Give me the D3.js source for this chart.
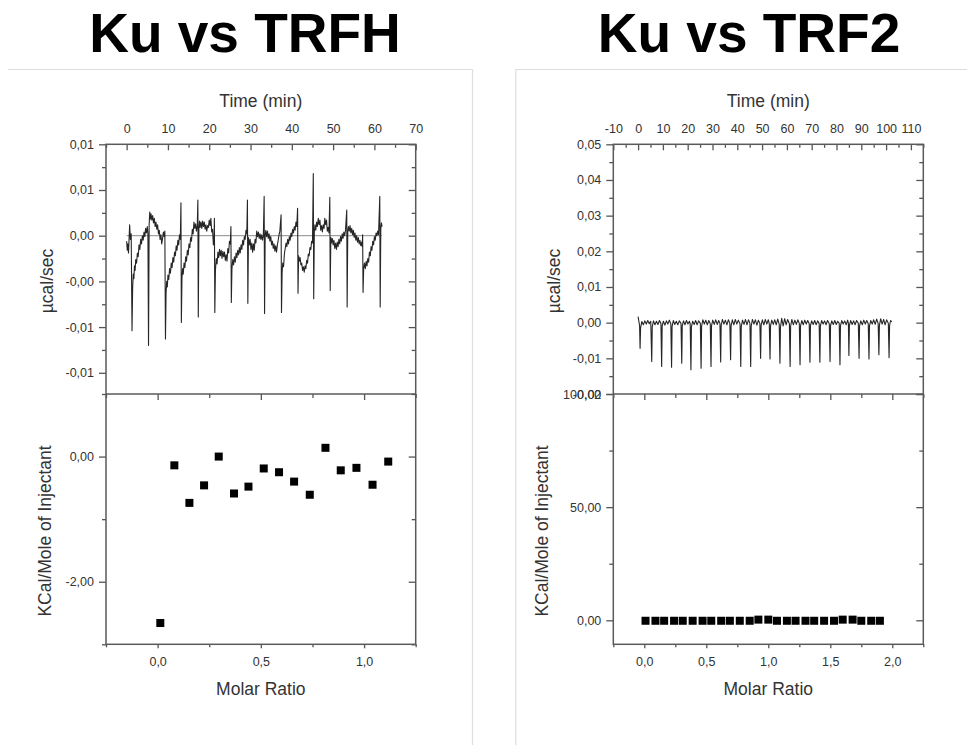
<!DOCTYPE html>
<html>
<head>
<meta charset="utf-8">
<script src="https://cdn.jsdelivr.net/npm/d3@7"></script>
<style>
  body { margin: 0; background: #fff; }
  svg text { font-family: "Liberation Sans", Arial, sans-serif; }
  .tick text { fill: #333; font-size: 12.5px; }
  .tick line { stroke: #555; stroke-width: 1.3; }
</style>
</head>
<body>
<div id="chart"></div>
<script>
// ---------- data: Ku vs TRFH (left) ----------
const leftTitle = "Ku vs TRFH";
const leftTimeDomain = [-5, 70];
const leftTimeTicks = [0, 10, 20, 30, 40, 50, 60, 70];
const leftTimeMinor = [-5, 5, 15, 25, 35, 45, 55, 65];
const leftPowerDomain = [-0.01732, 0.010];
const leftPowerTicks = [0.010, 0.005, 0.000, -0.005, -0.010, -0.015];
const leftPowerLabels = ["0,01", "0,01", "0,00", "-0,00", "-0,01", "-0,01"];
const leftPowerMinor = [0.0075, 0.0025, -0.0025, -0.0075, -0.0125];
const leftRatioDomain = [-0.25, 1.25];
const leftRatioTicks = [0, 0.5, 1.0];
const leftRatioLabels = ["0,0", "0,5", "1,0"];
const leftRatioMinor = [-0.25, 0.25, 0.75, 1.25];
const leftHeatDomain = [-3, 1];
const leftHeatTicks = [0, -2];
const leftHeatLabels = ["0,00", "-2,00"];
const leftHeatMinor = [1, -1, -3];

const leftMolarRatio = [0.013, 0.081, 0.154, 0.225, 0.296, 0.370, 0.440, 0.514,
                        0.588, 0.661, 0.737, 0.813, 0.887, 0.963, 1.041, 1.117];
const leftHeat = [-2.66, -0.14, -0.74, -0.46, 0.00, -0.59, -0.48, -0.19,
                  -0.25, -0.40, -0.61, 0.14, -0.22, -0.18, -0.45, -0.08];

// raw thermogram, [time (min), µcal/sec]
const leftTrace = [
  [0.0,-0.0006],[0.15,-0.0016],[0.3,-0.0009],[0.45,-0.0019],[0.6,-0.0002],[0.73,0.0012],[0.9,-0.0004],[1.1,0.0002],
  [1.3,-0.0104],[1.45,-0.0058],[1.6,-0.0042],[1.75,-0.0047],[1.9,-0.0033],[2.05,-0.0038],[2.2,-0.0026],[2.4,-0.0030],[2.6,-0.0019],[2.8,-0.0023],[3.0,-0.0010],[3.2,-0.0015],[3.4,-0.0004],[3.6,-0.0009],[3.8,0.0000],[4.0,-0.0005],[4.2,0.0004],[4.4,-0.0001],[4.6,0.0008],[4.8,0.0003],[5.0,0.0010],[5.15,0.0002],
  [5.3,-0.0120],[5.45,0.0012],[5.6,0.0026],[5.75,0.0018],[5.9,0.0024],[6.1,0.0017],[6.3,0.0022],[6.5,0.0014],[6.7,0.0019],[6.9,0.0010],[7.1,0.0015],[7.3,0.0007],[7.5,0.0012],[7.7,0.0002],[7.9,0.0006],[8.1,-0.0004],[8.3,0.0001],[8.5,-0.0009],[8.7,-0.0003],[8.9,0.0004],[9.1,-0.0001],[9.25,0.0005],
  [9.4,-0.0113],[9.55,-0.0062],[9.7,-0.0050],[9.85,-0.0056],[10.0,-0.0043],[10.2,-0.0048],[10.4,-0.0036],[10.6,-0.0041],[10.8,-0.0030],[11.0,-0.0035],[11.2,-0.0024],[11.4,-0.0029],[11.6,-0.0018],[11.8,-0.0022],[12.0,-0.0011],[12.2,-0.0016],[12.4,-0.0005],[12.6,-0.0010],[12.8,0.0001],[13.0,-0.0004],[13.15,0.0036],
  [13.25,-0.0095],[13.4,-0.0046],[13.55,-0.0036],[13.7,-0.0042],[13.9,-0.0030],[14.1,-0.0035],[14.3,-0.0023],[14.5,-0.0028],[14.7,-0.0016],[14.9,-0.0021],[15.1,-0.0009],[15.3,-0.0013],[15.5,-0.0002],[15.7,-0.0006],[15.9,0.0007],[16.1,0.0002],[16.3,0.0015],[16.5,0.0008],[16.7,0.0013],[16.9,0.0005],[17.1,0.0011],[17.25,0.0039],
  [17.35,-0.0089],[17.5,0.0008],[17.65,0.0016],[17.8,0.0009],[18.0,0.0015],[18.2,0.0008],[18.4,0.0016],[18.6,0.0010],[18.8,0.0015],[19.0,0.0007],[19.2,0.0012],[19.4,0.0005],[19.6,0.0011],[19.8,0.0009],[20.0,0.0017],[20.2,0.0011],[20.4,0.0019],[20.6,0.0004],[20.8,0.0007],[21.0,-0.0010],[21.15,-0.0005],[21.25,0.0019],
  [21.35,-0.0084],[21.5,-0.0038],[21.7,-0.0025],[21.9,-0.0031],[22.1,-0.0018],[22.3,-0.0024],[22.5,-0.0015],[22.7,-0.0022],[22.9,-0.0016],[23.1,-0.0025],[23.3,-0.0017],[23.5,-0.0023],[23.7,-0.0018],[23.9,-0.0027],[24.1,-0.0021],[24.3,-0.0028],[24.5,-0.0014],[24.7,-0.0019],[24.9,-0.0006],[25.1,-0.0009],[25.25,0.0010],
  [25.35,-0.0073],[25.5,-0.0036],[25.7,-0.0026],[25.9,-0.0032],[26.1,-0.0023],[26.3,-0.0029],[26.5,-0.0019],[26.7,-0.0024],[26.9,-0.0016],[27.1,-0.0021],[27.3,-0.0013],[27.5,-0.0019],[27.7,-0.0010],[27.9,-0.0015],[28.1,-0.0005],[28.3,-0.0010],[28.5,-0.0001],[28.7,-0.0004],[28.9,0.0006],[29.1,0.0002],[29.25,0.0039],
  [29.35,-0.0074],[29.5,-0.0002],[29.7,-0.0010],[29.9,-0.0004],[30.1,-0.0015],[30.3,-0.0008],[30.5,-0.0018],[30.7,-0.0009],[30.9,-0.0016],[31.1,-0.0004],[31.3,-0.0008],[31.5,0.0005],[31.7,-0.0001],[31.9,0.0004],[32.1,-0.0003],[32.3,0.0002],[32.5,-0.0004],[32.7,0.0001],[32.9,-0.0005],[33.1,0.0000],[33.3,0.0043],
  [33.4,-0.0085],[33.55,0.0000],[33.7,0.0006],[33.9,-0.0001],[34.1,0.0005],[34.3,-0.0003],[34.5,0.0002],[34.7,-0.0006],[34.9,-0.0001],[35.1,-0.0010],[35.3,-0.0006],[35.5,-0.0014],[35.7,-0.0009],[35.9,-0.0017],[36.1,-0.0011],[36.3,-0.0018],[36.5,-0.0010],[36.7,-0.0005],[36.9,0.0001],[37.1,0.0005],[37.4,0.0023],
  [37.5,-0.0084],[37.65,-0.0040],[37.8,-0.0030],[38.0,-0.0034],[38.2,-0.0020],[38.4,-0.0014],[38.6,-0.0008],[38.8,-0.0012],[39.0,-0.0004],[39.2,-0.0009],[39.4,-0.0001],[39.6,-0.0005],[39.8,0.0003],[40.0,-0.0001],[40.2,0.0007],[40.4,0.0003],[40.6,0.0010],[40.8,0.0006],[41.0,0.0015],[41.2,0.0010],[41.4,0.0030],
  [41.5,-0.0063],[41.65,-0.0022],[41.8,-0.0028],[42.0,-0.0024],[42.2,-0.0032],[42.4,-0.0030],[42.6,-0.0038],[42.8,-0.0034],[43.0,-0.0040],[43.2,-0.0033],[43.4,-0.0036],[43.6,-0.0027],[43.8,-0.0030],[44.0,-0.0020],[44.2,-0.0022],[44.4,-0.0013],[44.6,-0.0015],[44.8,-0.0006],[45.0,-0.0008],[45.2,0.0068],
  [45.3,-0.0069],[45.45,0.0004],[45.6,0.0012],[45.8,0.0006],[46.0,0.0015],[46.2,0.0010],[46.4,0.0019],[46.6,0.0012],[46.8,0.0017],[47.0,0.0006],[47.2,0.0011],[47.4,0.0004],[47.6,0.0012],[47.8,0.0008],[48.0,0.0019],[48.2,0.0012],[48.4,0.0017],[48.6,0.0005],[48.8,0.0009],[49.0,0.0003],[49.2,0.0042],
  [49.3,-0.0060],[49.45,-0.0002],[49.6,-0.0008],[49.8,-0.0003],[50.0,-0.0010],[50.2,-0.0005],[50.4,-0.0014],[50.6,-0.0008],[50.8,-0.0015],[51.0,-0.0007],[51.2,-0.0012],[51.4,-0.0004],[51.6,-0.0009],[51.8,-0.0001],[52.0,-0.0006],[52.2,0.0002],[52.4,-0.0003],[52.6,0.0004],[52.8,0.0000],[53.0,0.0006],[53.3,0.0028],
  [53.4,-0.0078],[53.55,0.0004],[53.7,0.0010],[53.9,0.0005],[54.1,0.0011],[54.3,0.0003],[54.5,0.0008],[54.7,0.0001],[54.9,0.0006],[55.1,-0.0002],[55.3,0.0003],[55.5,-0.0005],[55.7,0.0000],[55.9,-0.0007],[56.1,-0.0002],[56.3,-0.0009],[56.5,-0.0005],[56.7,-0.0011],[56.9,-0.0007],[57.05,-0.0012],[57.15,0.0001],
  [57.25,-0.0062],[57.4,-0.0036],[57.6,-0.0030],[57.8,-0.0036],[58.0,-0.0028],[58.2,-0.0033],[58.4,-0.0025],[58.6,-0.0029],[58.8,-0.0018],[59.0,-0.0022],[59.2,-0.0012],[59.4,-0.0016],[59.6,-0.0006],[59.8,-0.0010],[60.0,-0.0001],[60.2,-0.0005],[60.4,0.0003],[60.6,0.0000],[60.8,0.0005],[61.0,0.0001],[61.3,0.0043],
  [61.4,-0.0078],[61.55,0.0008],[61.7,0.0014],[61.85,0.0010]
];
const leftBaseline = [[0, 0], [61.8, 0]];

// ---------- data: Ku vs TRF2 (right) ----------
const rightTitle = "Ku vs TRF2";
const rightTimeDomain = [-10, 115];
const rightTimeTicks = [-10, 0, 10, 20, 30, 40, 50, 60, 70, 80, 90, 100, 110];
const rightTimeMinor = [-5, 5, 15, 25, 35, 45, 55, 65, 75, 85, 95, 105, 115];
const rightPowerDomain = [-0.02, 0.05];
const rightPowerTicks = [0.05, 0.04, 0.03, 0.02, 0.01, 0.00, -0.01, -0.02];
const rightPowerLabels = ["0,05", "0,04", "0,03", "0,02", "0,01", "0,00", "-0,01", "-0,02"];
const rightPowerMinor = [0.045, 0.035, 0.025, 0.015, 0.005, -0.005, -0.015];
const rightRatioDomain = [-0.25, 2.25];
const rightRatioTicks = [0, 0.5, 1.0, 1.5, 2.0];
const rightRatioLabels = ["0,0", "0,5", "1,0", "1,5", "2,0"];
const rightRatioMinor = [-0.25, 0.25, 0.75, 1.25, 1.75, 2.25];
const rightHeatDomain = [-10.6, 100];
const rightHeatTicks = [100, 50, 0];
const rightHeatLabels = ["100,00", "50,00", "0,00"];
const rightHeatMinor = [75, 25];

const rightMolarRatio = [0.01, 0.09, 0.16, 0.24, 0.31, 0.39, 0.47, 0.54, 0.62, 0.69, 0.77, 0.85, 0.92,
                         1.00, 1.07, 1.15, 1.22, 1.30, 1.37, 1.45, 1.53, 1.60, 1.68, 1.75, 1.83, 1.90];
const rightHeat = [-0.2, -0.2, -0.2, -0.2, -0.2, -0.2, -0.2, -0.2, -0.2, -0.2, -0.2, -0.2, 0.3,
                   0.3, -0.2, -0.2, -0.2, -0.2, -0.2, -0.2, -0.2, 0.3, 0.3, -0.2, -0.2, -0.2];

const rightTrace = [
  [0.0,0.0017],[0.3,0.0004],[0.6,-0.0008],[0.8,-0.0072],[1.0,-0.0015],[1.5,0.0003],[2.1,-0.0006],[2.7,0.0005],[3.3,-0.0004],[3.9,0.0006],[4.5,-0.0003],[5.1,0.0004],
  [5.5,-0.0109],[5.7,-0.0012],[6.2,0.0005],[6.8,-0.0006],[7.4,0.0004],[8.0,-0.0005],[8.6,0.0006],[9.2,-0.0002],
  [9.5,-0.0123],[9.7,-0.0010],[10.2,0.0004],[10.8,-0.0007],[11.4,0.0005],[12.0,-0.0004],[12.6,0.0007],[13.2,-0.0003],
  [13.5,-0.0125],[13.7,-0.0011],[14.2,0.0006],[14.8,-0.0005],[15.4,0.0004],[16.0,-0.0006],[16.6,0.0005],[17.3,-0.0002],
  [17.6,-0.0114],[17.8,-0.0009],[18.3,0.0005],[18.9,-0.0006],[19.5,0.0006],[20.1,-0.0004],[20.7,0.0004],[21.0,-0.0003],
  [21.3,-0.0132],[21.5,-0.0012],[22.0,0.0004],[22.6,-0.0005],[23.2,0.0006],[23.8,-0.0006],[24.4,0.0005],[25.1,-0.0002],
  [25.4,-0.0128],[25.6,-0.0010],[26.1,0.0008],[26.7,-0.0004],[27.3,0.0007],[27.9,-0.0006],[28.5,0.0006],[29.1,-0.0003],
  [29.4,-0.0123],[29.6,-0.0009],[30.1,0.0007],[30.7,-0.0005],[31.3,0.0008],[31.9,-0.0005],[32.5,0.0006],[33.0,-0.0002],
  [33.3,-0.0110],[33.5,-0.0008],[34.0,0.0009],[34.6,-0.0004],[35.2,0.0007],[35.8,-0.0006],[36.4,0.0008],[37.0,-0.0002],
  [37.3,-0.0104],[37.5,-0.0009],[38.0,0.0008],[38.6,-0.0006],[39.2,0.0009],[39.8,-0.0004],[40.4,0.0007],[41.1,-0.0003],
  [41.4,-0.0123],[41.6,-0.0011],[42.1,0.0007],[42.7,-0.0005],[43.3,0.0009],[43.9,-0.0006],[44.5,0.0008],[45.1,-0.0002],
  [45.4,-0.0123],[45.6,-0.0010],[46.1,0.0009],[46.7,-0.0004],[47.3,0.0008],[47.9,-0.0007],[48.5,0.0007],[49.1,-0.0002],
  [49.4,-0.0100],[49.6,-0.0008],[50.1,0.0008],[50.7,-0.0006],[51.3,0.0009],[51.9,-0.0004],[52.5,0.0008],[52.9,-0.0003],
  [53.2,-0.0102],[53.4,-0.0009],[53.9,0.0007],[54.5,-0.0005],[55.1,0.0008],[55.7,-0.0006],[56.3,0.0010],[56.9,-0.0004],
  [57.2,-0.0114],[57.4,-0.0014],[57.9,0.0012],[58.5,-0.0009],[59.1,0.0011],[59.7,-0.0006],[60.3,0.0009],[61.0,-0.0003],
  [61.3,-0.0123],[61.5,-0.0010],[62.0,0.0009],[62.6,-0.0006],[63.2,0.0007],[63.8,-0.0005],[64.4,0.0008],[65.0,-0.0002],
  [65.3,-0.0118],[65.5,-0.0009],[66.0,0.0006],[66.6,-0.0006],[67.2,0.0007],[67.8,-0.0004],[68.4,0.0006],[69.0,-0.0003],
  [69.3,-0.0111],[69.5,-0.0008],[70.0,0.0005],[70.6,-0.0005],[71.2,0.0006],[71.8,-0.0006],[72.4,0.0005],[73.0,-0.0002],
  [73.3,-0.0111],[73.5,-0.0009],[74.0,0.0006],[74.6,-0.0004],[75.2,0.0005],[75.8,-0.0006],[76.4,0.0006],[77.1,-0.0003],
  [77.4,-0.0109],[77.6,-0.0008],[78.1,0.0005],[78.7,-0.0005],[79.3,0.0006],[79.9,-0.0005],[80.5,0.0004],[81.1,-0.0002],
  [81.4,-0.0118],[81.6,-0.0009],[82.1,0.0006],[82.7,-0.0004],[83.3,0.0005],[83.9,-0.0006],[84.5,0.0007],[84.8,-0.0002],
  [85.0,-0.0092],[85.2,-0.0008],[85.7,0.0006],[86.3,-0.0005],[86.9,0.0005],[87.5,-0.0006],[88.1,0.0006],[88.8,-0.0002],
  [89.1,-0.0100],[89.3,-0.0009],[89.8,0.0005],[90.4,-0.0006],[91.0,0.0007],[91.6,-0.0004],[92.2,0.0006],[92.8,-0.0003],
  [93.1,-0.0102],[93.3,-0.0009],[93.8,0.0006],[94.4,-0.0004],[95.0,0.0008],[95.6,-0.0005],[96.2,0.0010],[96.8,-0.0002],
  [97.1,-0.0090],[97.3,-0.0008],[97.8,0.0011],[98.4,-0.0004],[99.0,0.0009],[99.6,-0.0006],[100.2,0.0008],[100.9,-0.0002],
  [101.2,-0.0098],[101.4,-0.0008],[101.8,0.0006],[102.3,0.0002]
];

// ---------- layout ----------
const W = 967, H = 745;
const yTop = 144.3, yMid = 394, yBot = 644.3;

const svg = d3.select("#chart").append("svg")
    .attr("width", W)
    .attr("height", H);

// light page separators
const sep = svg.append("g").attr("stroke", "#dedede").attr("stroke-width", 1.2).attr("fill", "none");
sep.append("path").attr("d", "M8,69.5 H472.5 V745");
sep.append("path").attr("d", "M967,69.5 H515.7 V745");

function drawPanel(p) {
    let g = svg.append("g");

    // title
    g.append("text")
        .attr("x", p.titleX)
        .attr("y", 51.5)
        .attr("text-anchor", "middle")
        .attr("font-weight", "bold")
        .attr("font-size", 55)
        .attr("fill", "#000")
        .text(p.title);

    let x = d3.scaleLinear().domain(p.timeDomain).range([p.left, p.right]);
    let y = d3.scaleLinear().domain(p.powerDomain).range([yMid, yTop]);
    let xr = d3.scaleLinear().domain(p.ratioDomain).range([p.left, p.right]);
    let yr = d3.scaleLinear().domain(p.heatDomain).range([yBot, yMid]);

    // --- upper plot: raw heat ---
    if (p.baseline) {
        g.append("path")
            .datum(p.baseline)
            .attr("fill", "none")
            .attr("stroke", "#8a8a8a")
            .attr("stroke-width", 1)
            .attr("d", d3.line().x(d => x(d[0])).y(d => y(d[1])));
    }
    g.append("path")
        .datum(p.trace)
        .attr("fill", "none")
        .attr("stroke", "#262626")
        .attr("stroke-width", 1.1)
        .attr("stroke-linejoin", "round")
        .attr("d", d3.line().x(d => x(d[0])).y(d => y(d[1])));

    // top axis with labels, ticks inward
    g.append("g").attr("transform", `translate(0,${yTop})`)
        .call(d3.axisTop(x).tickValues(p.timeTicks).tickFormat(d => d)
            .tickSizeInner(-6).tickSizeOuter(0).tickPadding(11))
        .call(a => a.select(".domain").remove());
    g.append("g").attr("transform", `translate(0,${yTop})`)
        .call(d3.axisTop(x).tickValues(p.timeMinor).tickFormat("").tickSizeInner(-3.5).tickSizeOuter(0))
        .call(a => a.select(".domain").remove());

    // left axis outward with labels
    g.append("g").attr("transform", `translate(${p.left},0)`)
        .call(d3.axisLeft(y).tickValues(p.powerTicks).tickFormat((d, i) => p.powerLabels[i])
            .tickSizeInner(7).tickSizeOuter(0).tickPadding(5))
        .call(a => a.select(".domain").remove());
    g.append("g").attr("transform", `translate(${p.left},0)`)
        .call(d3.axisLeft(y).tickValues(p.powerMinor).tickFormat("").tickSizeInner(4).tickSizeOuter(0))
        .call(a => a.select(".domain").remove());

    // right axis inward
    g.append("g").attr("transform", `translate(${p.right},0)`)
        .call(d3.axisRight(y).tickValues(p.powerTicks).tickFormat("").tickSizeInner(-7).tickSizeOuter(0))
        .call(a => a.select(".domain").remove());
    g.append("g").attr("transform", `translate(${p.right},0)`)
        .call(d3.axisRight(y).tickValues(p.powerMinor).tickFormat("").tickSizeInner(-4).tickSizeOuter(0))
        .call(a => a.select(".domain").remove());

    // --- lower plot: integrated heats ---
    let s = 8;
    g.append("g")
        .selectAll("rect")
        .data(p.ratio.map((r, i) => [r, p.heat[i]]))
        .enter()
        .append("rect")
        .attr("x", d => xr(d[0]) - s / 2)
        .attr("y", d => yr(d[1]) - s / 2)
        .attr("width", s)
        .attr("height", s)
        .attr("fill", "#000");

    // top edge of lower plot, ticks pointing down
    g.append("g").attr("transform", `translate(0,${yMid})`)
        .call(d3.axisBottom(xr).tickValues(p.ratioTicks).tickFormat("").tickSizeInner(6).tickSizeOuter(0))
        .call(a => a.select(".domain").remove());
    g.append("g").attr("transform", `translate(0,${yMid})`)
        .call(d3.axisBottom(xr).tickValues(p.ratioMinor).tickFormat("").tickSizeInner(4).tickSizeOuter(0))
        .call(a => a.select(".domain").remove());

    // bottom axis with labels
    g.append("g").attr("transform", `translate(0,${yBot})`)
        .call(d3.axisBottom(xr).tickValues(p.ratioTicks).tickFormat((d, i) => p.ratioLabels[i])
            .tickSizeInner(4).tickSizeOuter(0).tickPadding(9))
        .call(a => a.select(".domain").remove());
    g.append("g").attr("transform", `translate(0,${yBot})`)
        .call(d3.axisBottom(xr).tickValues(p.ratioMinor).tickFormat("").tickSizeInner(3).tickSizeOuter(0))
        .call(a => a.select(".domain").remove());

    g.append("g").attr("transform", `translate(${p.left},0)`)
        .call(d3.axisLeft(yr).tickValues(p.heatTicks).tickFormat((d, i) => p.heatLabels[i])
            .tickSizeInner(7).tickSizeOuter(0).tickPadding(5))
        .call(a => a.select(".domain").remove());
    g.append("g").attr("transform", `translate(${p.left},0)`)
        .call(d3.axisLeft(yr).tickValues(p.heatMinor).tickFormat("").tickSizeInner(4).tickSizeOuter(0))
        .call(a => a.select(".domain").remove());
    g.append("g").attr("transform", `translate(${p.right},0)`)
        .call(d3.axisRight(yr).tickValues(p.heatTicks).tickFormat("").tickSizeInner(-7).tickSizeOuter(0))
        .call(a => a.select(".domain").remove());
    g.append("g").attr("transform", `translate(${p.right},0)`)
        .call(d3.axisRight(yr).tickValues(p.heatMinor).tickFormat("").tickSizeInner(-4).tickSizeOuter(0))
        .call(a => a.select(".domain").remove());

    // frames
    g.append("rect")
        .attr("x", p.left).attr("y", yTop)
        .attr("width", p.right - p.left).attr("height", yBot - yTop)
        .attr("fill", "none").attr("stroke", "#5a5a5a").attr("stroke-width", 1.5);
    g.append("line")
        .attr("x1", p.left).attr("x2", p.right)
        .attr("y1", yMid).attr("y2", yMid)
        .attr("stroke", "#5a5a5a").attr("stroke-width", 1.5);

    // axis titles
    let cx = (p.left + p.right) / 2;
    g.append("text").attr("x", cx).attr("y", 107)
        .attr("text-anchor", "middle").attr("font-size", 17.5).attr("fill", "#333")
        .text("Time (min)");
    g.append("text").attr("x", cx).attr("y", 695)
        .attr("text-anchor", "middle").attr("font-size", 17.5).attr("fill", "#333")
        .text("Molar Ratio");
    g.append("text")
        .attr("transform", `translate(${p.left - 53},281) rotate(-90)`)
        .attr("text-anchor", "middle").attr("font-size", 17.5).attr("fill", "#333")
        .text("µcal/sec");
    g.append("text")
        .attr("transform", `translate(${p.left - p.heatTitleOff},531) rotate(-90)`)
        .attr("text-anchor", "middle").attr("font-size", 17.5).attr("fill", "#333")
        .text("KCal/Mole of Injectant");
}

drawPanel({
    title: leftTitle, titleX: 245, left: 106, right: 415.7,
    timeDomain: leftTimeDomain, timeTicks: leftTimeTicks, timeMinor: leftTimeMinor,
    powerDomain: leftPowerDomain, powerTicks: leftPowerTicks, powerLabels: leftPowerLabels, powerMinor: leftPowerMinor,
    ratioDomain: leftRatioDomain, ratioTicks: leftRatioTicks, ratioLabels: leftRatioLabels, ratioMinor: leftRatioMinor,
    heatDomain: leftHeatDomain, heatTicks: leftHeatTicks, heatLabels: leftHeatLabels, heatMinor: leftHeatMinor,
    ratio: leftMolarRatio, heat: leftHeat, trace: leftTrace, baseline: leftBaseline,
    heatTitleOff: 55
});

drawPanel({
    title: rightTitle, titleX: 749, left: 613.3, right: 923.3,
    timeDomain: rightTimeDomain, timeTicks: rightTimeTicks, timeMinor: rightTimeMinor,
    powerDomain: rightPowerDomain, powerTicks: rightPowerTicks, powerLabels: rightPowerLabels, powerMinor: rightPowerMinor,
    ratioDomain: rightRatioDomain, ratioTicks: rightRatioTicks, ratioLabels: rightRatioLabels, ratioMinor: rightRatioMinor,
    heatDomain: rightHeatDomain, heatTicks: rightHeatTicks, heatLabels: rightHeatLabels, heatMinor: rightHeatMinor,
    ratio: rightMolarRatio, heat: rightHeat, trace: rightTrace, baseline: null,
    heatTitleOff: 65
});
</script>
</body>
</html>
